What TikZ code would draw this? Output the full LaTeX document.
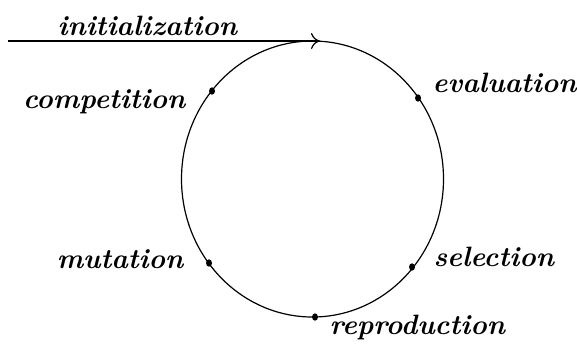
\documentclass[tikz,border=0pt]{standalone}
\usetikzlibrary{arrows.meta, shapes.geometric}

\begin{document}
\begin{tikzpicture}[x=0.5pt, y=-0.5pt, line width=0.6pt,
  dot/.style={ellipse, fill=black, inner sep=0pt, minimum width=3pt, minimum height=3.7pt},
  stagelbl/.style={anchor=base west, inner sep=0pt, font=\fontsize{14}{16}\selectfont\bfseries\itshape}]

  \useasboundingbox (0,0) rectangle (577,350);

  % the cycle
  \draw (312.5,179) ellipse [x radius=131, y radius=138];

  % entry arrow onto the top of the cycle
  \coordinate (start) at (8,41);
  \coordinate (top) at (320,41);
  \draw[-{To[length=4.5pt,width=8pt]}] (start) -- (top);
  \node[stagelbl] (init) at (57,35) {initialization};

  % stages on the cycle
  \node[dot] (eval) at (418,98) {};
  \node[dot] (sel)  at (412,267) {};
  \node[dot] (repr) at (315,317) {};
  \node[dot] (mut)  at (209,263) {};
  \node[dot] (comp) at (212,91) {};

  % stage labels
  \node[stagelbl] (evallbl) at (432,92)  {evaluation};
  \node[stagelbl] (sellbl)  at (433,266) {selection};
  \node[stagelbl] (reprlbl) at (329,334) {reproduction};
  \node[stagelbl, anchor=base east] (mutlbl)  at (184,268) {mutation};
  \node[stagelbl, anchor=base east] (complbl) at (186,108) {competition};

\end{tikzpicture}
\end{document}
